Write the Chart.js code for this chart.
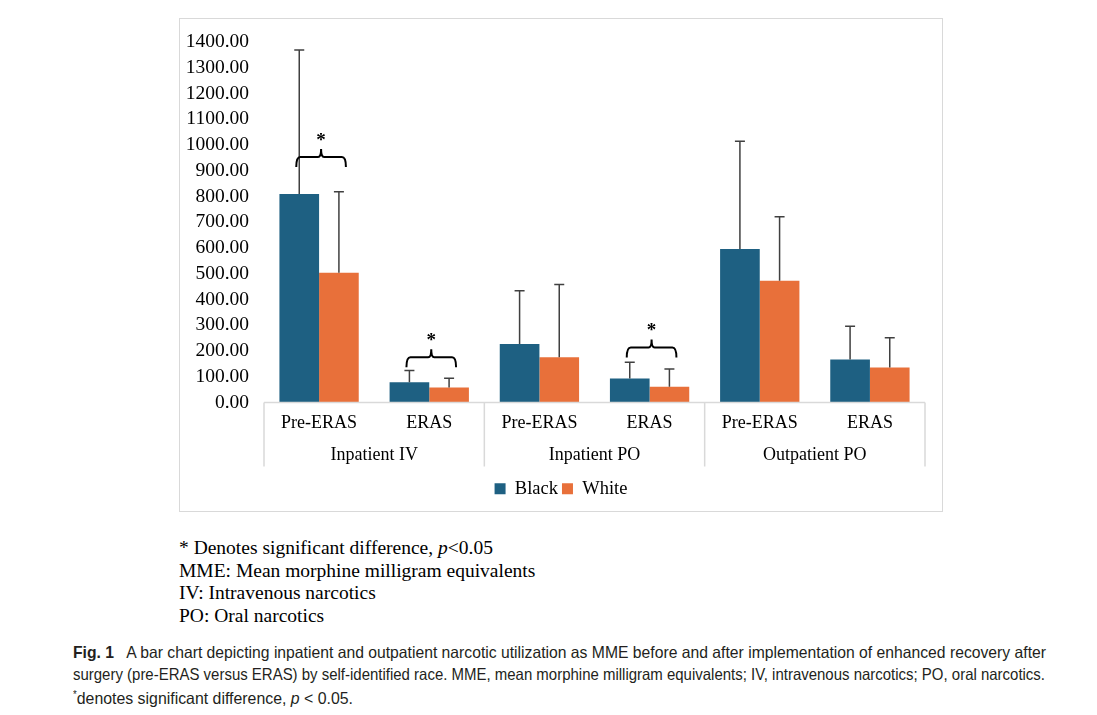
<!DOCTYPE html>
<html>
<head>
<meta charset="utf-8">
<script src="https://cdn.jsdelivr.net/npm/chart.js@4"></script>
<style>
  body { margin: 0; background: #fff; width: 1097px; height: 715px; position: relative; overflow: hidden; }
  #box { position: absolute; left: 179px; top: 18px; width: 762px; height: 492px; border: 1px solid #d9d9d9; }
  #notes { position: absolute; left: 179px; top: 537px; font-family: "Liberation Serif", serif; font-size: 19.5px; line-height: 22.7px; color: #000; }
  #caption { position: absolute; left: 73px; top: 642px; font-family: "Liberation Sans", Arial, sans-serif; font-size: 16.5px; line-height: 21.7px; color: #231f20; white-space: nowrap; }
  #caption span { display: block; width: max-content; height: 21.7px; transform-origin: 0 0; }
  #caption span.last { margin-top: 3px; }
  #caption sup { font-size: 10px; line-height: 0; }
</style>
</head>
<body>
<div id="box"><canvas id="chart" width="762" height="492"></canvas></div>
<div id="notes">
  * Denotes significant difference, <i>p</i>&lt;0.05<br>
  MME: Mean morphine milligram equivalents<br>
  IV: Intravenous narcotics<br>
  PO: Oral narcotics
</div>
<div id="caption"><span data-w="973"><b>Fig. 1</b>&nbsp;&nbsp; A bar chart depicting inpatient and outpatient narcotic utilization as MME before and after implementation of enhanced recovery after</span><span data-w="972">surgery (pre-ERAS versus ERAS) by self-identified race. MME, mean morphine milligram equivalents; IV, intravenous narcotics; PO, oral narcotics.</span><span class="last" data-w="280"><sup>*</sup>denotes significant difference, <i>p</i> &lt; 0.05.</span></div>
<script>
const periods = ["Pre-ERAS", "ERAS", "Pre-ERAS", "ERAS", "Pre-ERAS", "ERAS"];
const groups = ["Inpatient IV", "Inpatient PO", "Outpatient PO"];
const black = [810, 79, 227, 93, 596, 167];
const white = [504, 58, 176, 61, 473, 136];
const blackSD = [559, 45, 207, 63, 419, 129];
const whiteSD = [314, 36, 282, 69, 248, 115];
// significance brackets: category index and level (MME)
const sigCategory = [0, 1, 3];
const sigLevel = [953, 176, 214];

const serif = "'Liberation Serif', 'Times New Roman', serif";

// squeeze each caption line to the condensed width of the original
document.querySelectorAll("#caption span").forEach(s => {
  const w = s.getBoundingClientRect().width;
  s.style.transform = "scaleX(" + (Number(s.dataset.w) / w) + ")";
});

const annotations = {
  id: "annotations",
  afterDatasetsDraw(chart) {
    const ctx = chart.ctx;
    const x = chart.scales.x, y = chart.scales.y;
    const sds = [blackSD, whiteSD];
    ctx.save();
    // error bars
    ctx.strokeStyle = "#404040";
    ctx.lineWidth = 1.5;
    chart.data.datasets.forEach((ds, di) => {
      chart.getDatasetMeta(di).data.forEach((bar, i) => {
        const top = y.getPixelForValue(ds.data[i] + sds[di][i]);
        ctx.beginPath();
        ctx.moveTo(bar.x, bar.y);
        ctx.lineTo(bar.x, top);
        ctx.moveTo(bar.x - 5, top);
        ctx.lineTo(bar.x + 5, top);
        ctx.stroke();
      });
    });
    // brackets
    ctx.strokeStyle = "#000";
    ctx.lineWidth = 2;
    ctx.fillStyle = "#000";
    ctx.font = "bold 19px " + serif;
    ctx.textAlign = "center";
    ctx.textBaseline = "middle";
    const b0 = chart.getDatasetMeta(0).data, b1 = chart.getDatasetMeta(1).data;
    sigCategory.forEach((c, k) => {
      const l = b0[c].x - 3, r = b1[c].x + 7;
      const yy = y.getPixelForValue(sigLevel[k]);
      const mid = (l + r) / 2;
      ctx.beginPath();
      ctx.moveTo(l, yy + 10);
      ctx.quadraticCurveTo(l, yy, l + 4, yy);
      ctx.lineTo(mid - 3, yy);
      ctx.quadraticCurveTo(mid, yy, mid, yy - 8);
      ctx.quadraticCurveTo(mid, yy, mid + 3, yy);
      ctx.lineTo(r - 4, yy);
      ctx.quadraticCurveTo(r, yy, r, yy + 10);
      ctx.stroke();
      ctx.fillText("*", mid, yy - 16);
    });
    // axis line and group separators
    const base = y.getPixelForValue(0);
    ctx.strokeStyle = "#d9d9d9";
    ctx.lineWidth = 1.5;
    ctx.beginPath();
    ctx.moveTo(x.left, base);
    ctx.lineTo(x.right, base);
    const step = (x.right - x.left) / groups.length;
    for (let g = 0; g <= groups.length; g++) {
      const px = x.left + g * step;
      ctx.moveTo(px, base);
      ctx.lineTo(px, base + 64);
    }
    ctx.stroke();
    ctx.restore();
  }
};

new Chart(document.getElementById("chart"), {
  type: "bar",
  data: {
    labels: periods,
    datasets: [
      { label: "Black", data: black, backgroundColor: "#1e6082", categoryPercentage: 0.72, barPercentage: 1.0 },
      { label: "White", data: white, backgroundColor: "#e8703a", categoryPercentage: 0.72, barPercentage: 1.0 }
    ]
  },
  options: {
    responsive: false,
    animation: false,
    layout: { padding: { left: 0, right: 0, top: 23, bottom: 3 } },
    plugins: {
      legend: {
        position: "bottom",
        labels: { color: "#000", font: { family: serif, size: 18.5 }, boxWidth: 11, boxHeight: 11, padding: 4 }
      },
      tooltip: { enabled: false }
    },
    scales: {
      y: {
        min: 0, max: 1400,
        afterFit(s) { s.width = 84; s.paddingTop = 0; s.paddingBottom = 0; },
        grid: { display: false, drawTicks: false },
        border: { display: false },
        ticks: { stepSize: 100, autoSkip: false, color: "#000", font: { family: serif, size: 19.5 }, padding: 15,
          callback: v => v.toFixed(2) }
      },
      yRight: {
        position: "right",
        afterFit(s) { s.width = 17; s.paddingTop = 0; s.paddingBottom = 0; },
        grid: { display: false, drawTicks: false },
        border: { display: false },
        ticks: { display: false }
      },
      x: {
        grid: { display: false, drawTicks: false },
        border: { display: false },
        afterFit(s) { s.height = 33; },
        ticks: { color: "#000", font: { family: serif, size: 18 }, padding: 10, maxRotation: 0 }
      },
      group: {
        type: "category",
        labels: groups,
        position: "bottom",
        offset: true,
        grid: { display: false, drawTicks: false },
        border: { display: false },
        afterFit(s) { s.height = 40; },
        ticks: { color: "#000", font: { family: serif, size: 18 }, padding: 9, maxRotation: 0 }
      }
    }
  },
  plugins: [annotations]
});
</script>
</body>
</html>
